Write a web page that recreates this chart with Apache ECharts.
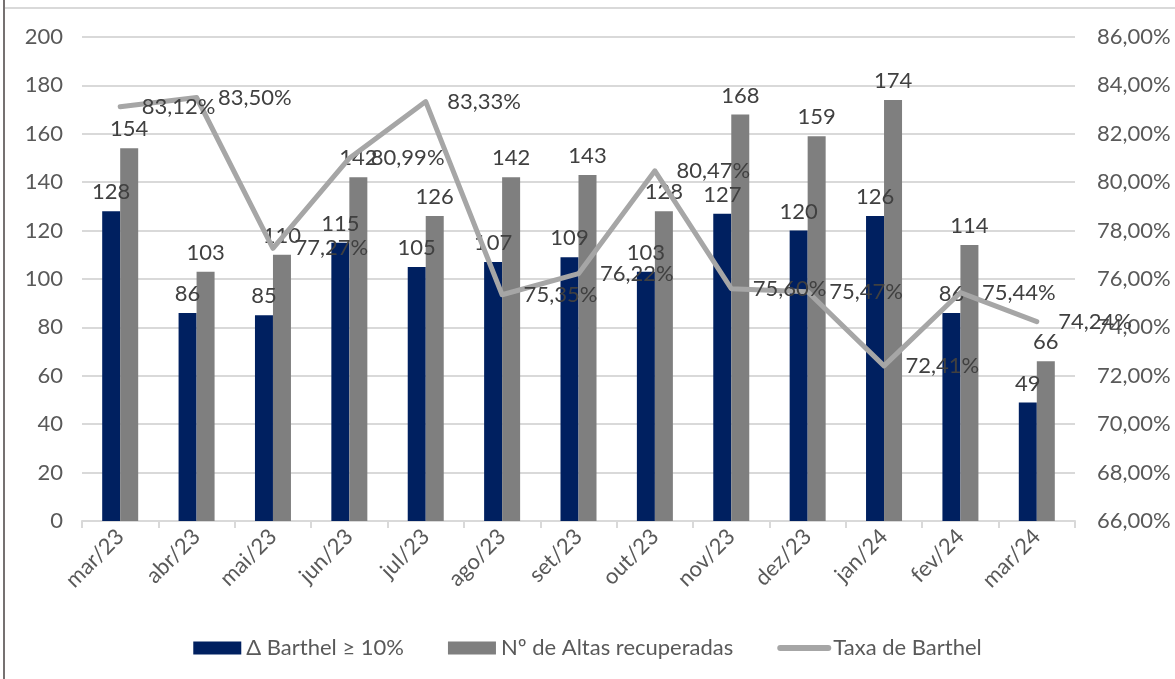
<!DOCTYPE html>
<html><head><meta charset="utf-8">
<script src="https://cdn.jsdelivr.net/npm/echarts@6/dist/echarts.min.js"></script>
<style>html,body{margin:0;padding:0;background:#fff}#c{width:1175px;height:679px}</style>
</head><body><div id="c"></div>
<script>
const categories = ['mar/23','abr/23','mai/23','jun/23','jul/23','ago/23','set/23','out/23','nov/23','dez/23','jan/24','fev/24','mar/24'];
const barthel = [128, 86, 85, 115, 105, 107, 109, 103, 127, 120, 126, 86, 49];
const altas = [154, 103, 110, 142, 126, 142, 143, 128, 168, 159, 174, 114, 66];
const taxa = [83.12, 83.50, 77.27, 80.99, 83.33, 75.35, 76.22, 80.47, 75.60, 75.47, 72.41, 75.44, 74.24];
const seriesNames = ['Δ Barthel ≥ 10%', 'Nº de Altas recuperadas', 'Taxa de Barthel'];

const FONT = 'Lato';
const FS = 22;
const pct = v => v.toFixed(2).replace('.', ',') + '%';
const chart = echarts.init(document.getElementById('c'), null, {renderer: 'canvas'});
const lbl = {show: true, position: 'top', distance: 8, color: '#404040', fontFamily: FONT, fontSize: FS};
chart.setOption({
  animation: false,
  textStyle: {fontFamily: FONT},
  graphic: [
    {type: 'rect', shape: {x: 3, y: 0, width: 2, height: 679}, style: {fill: '#767171'}, silent: true},
    {type: 'rect', shape: {x: 5, y: 7, width: 1170, height: 2}, style: {fill: '#d9d9d9'}, silent: true}
  ],
  grid: {left: 82, right: 100, top: 37, bottom: 158},
  legend: {
    bottom: 15, left: 'center', itemGap: 44, itemWidth: 48, itemHeight: 13,
    textStyle: {color: '#595959', fontSize: FS, fontFamily: FONT},
    data: [
      {name: seriesNames[0], icon: 'rect'},
      {name: seriesNames[1], icon: 'rect'},
      {name: seriesNames[2], itemStyle: {opacity: 0}, lineStyle: {width: 6, cap: 'round', color: '#a6a6a6'}}
    ]
  },
  xAxis: {
    type: 'category', data: categories, boundaryGap: true,
    axisLine: {lineStyle: {color: '#d9d9d9', width: 2}},
    axisTick: {show: true, length: 7, lineStyle: {color: '#d9d9d9', width: 2}},
    axisLabel: {rotate: 45, color: '#595959', fontSize: FS, fontFamily: FONT, margin: 12, interval: 0}
  },
  yAxis: [
    {type: 'value', min: 0, max: 200, interval: 20,
     axisLine: {show: false}, axisTick: {show: false},
     splitLine: {lineStyle: {color: '#d9d9d9', width: 2}},
     axisLabel: {color: '#595959', fontSize: FS, fontFamily: FONT, margin: 19}},
    {type: 'value', min: 66, max: 86, interval: 2,
     axisLine: {show: false}, axisTick: {show: false}, splitLine: {show: false},
     axisLabel: {color: '#595959', fontSize: FS, fontFamily: FONT, margin: 22, formatter: v => pct(v)}}
  ],
  series: [
    {name: seriesNames[0], type: 'bar', data: barthel, barWidth: 18, barGap: '0%',
     itemStyle: {color: '#002060'}, label: lbl, z: 2},
    {name: seriesNames[1], type: 'bar', data: altas, barWidth: 18, barGap: '0%',
     itemStyle: {color: '#7f7f7f'}, label: lbl, z: 2},
    {name: seriesNames[2], type: 'line', yAxisIndex: 1, data: taxa, symbol: 'none',
     lineStyle: {color: '#a6a6a6', width: 5, cap: 'round', join: 'round'}, itemStyle: {color: '#a6a6a6'}, z: 3},
    {name: 'labels', type: 'scatter', yAxisIndex: 1, data: taxa, symbolSize: 1,
     itemStyle: {color: '#a6a6a6', opacity: 1}, silent: true, z: 4,
     label: {show: true, position: 'right', distance: 21, color: '#404040', fontFamily: FONT, fontSize: FS,
             formatter: p => pct(p.value)}}
  ]
});
</script></body></html>
